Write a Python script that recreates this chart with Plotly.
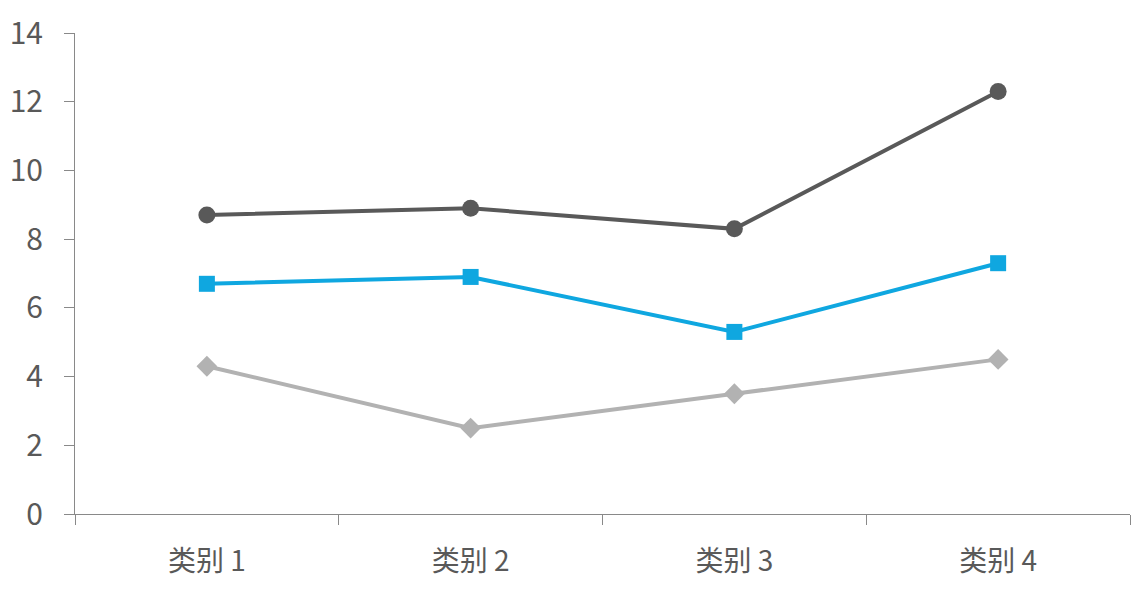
import plotly.graph_objects as go

categories = ["类别 1", "类别 2", "类别 3", "类别 4"]
series_dark = [8.7, 8.9, 8.3, 12.3]
series_blue = [6.7, 6.9, 5.3, 7.3]
series_gray = [4.3, 2.5, 3.5, 4.5]
y_ticks = [0, 2, 4, 6, 8, 10, 12, 14]

fig = go.Figure()

# lighter series first so darker lines sit on top
fig.add_trace(go.Scatter(
    x=categories, y=series_gray, mode="lines+markers",
    line=dict(color="#B2B2B2", width=4),
    marker=dict(symbol="diamond", size=16, color="#B2B2B2"),
))
fig.add_trace(go.Scatter(
    x=categories, y=series_blue, mode="lines+markers",
    line=dict(color="#0FA7E0", width=4),
    marker=dict(symbol="square", size=16, color="#0FA7E0"),
))
fig.add_trace(go.Scatter(
    x=categories, y=series_dark, mode="lines+markers",
    line=dict(color="#595959", width=4),
    marker=dict(symbol="circle", size=17, color="#595959"),
))

font_family = "Noto Sans CJK SC, Noto Sans, sans-serif"

fig.update_xaxes(
    type="category",
    range=[-0.5, 3.5],
    showgrid=False,
    showline=True, linecolor="#898989", linewidth=1,
    ticks="outside", tickson="boundaries", ticklen=10, tickcolor="#898989",
    tickfont=dict(family=font_family, size=28, color="#595959"),
    ticklabelstandoff=22,
    zeroline=False,
    automargin=False,
)
fig.update_yaxes(
    range=[0, 14],
    tickvals=y_ticks,
    showgrid=False,
    showline=True, linecolor="#898989", linewidth=1,
    ticks="outside", ticklen=10, tickcolor="#898989",
    tickfont=dict(family=font_family, size=30, color="#595959"),
    ticklabelstandoff=15,
    zeroline=False,
    automargin=False,
)

# the page adds an 8px body margin, so shift the plot area up/left to match
fig.update_layout(
    width=1139, height=605,
    margin=dict(l=67, r=17, t=25, b=99),
    plot_bgcolor="white", paper_bgcolor="white",
    showlegend=False,
)

fig.write_html("out.html")
